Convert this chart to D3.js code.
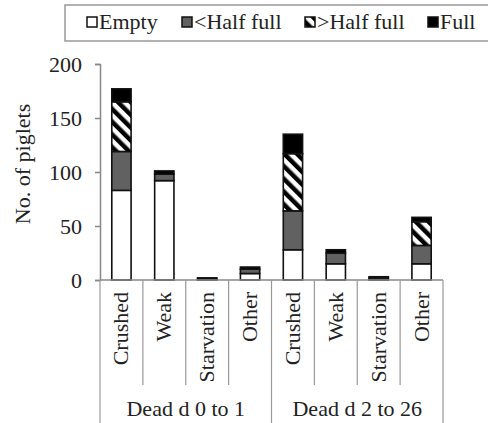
<!DOCTYPE html>
<html><head><meta charset="utf-8">
<script src="https://cdn.jsdelivr.net/npm/d3@7"></script>
</head><body style="margin:0;background:#fff">
<svg id="c" width="488" height="423" style="display:block"></svg>
<script>
const categories = ["Crushed","Weak","Starvation","Other","Crushed","Weak","Starvation","Other"];
const groups = ["Dead d 0 to 1","Dead d 2 to 26"];
const seriesNames = ["Empty","<Half full",">Half full","Full"];
const empty    = [83, 92, 0, 6, 28, 15, 0, 15];
const lessHalf = [36, 6, 1, 4, 36, 10, 2, 17];
const moreHalf = [46, 0, 0, 0, 53, 0, 0, 22];
const full     = [12, 3, 1, 2, 18, 3, 1, 4];
const yTicks = [0, 50, 100, 150, 200];

(function(){
const svg = d3.select("#c");
const mLeft = 100, mRight = 443, mTop = 64, mBottom = 280;
function sty(sel){
  return sel.attr("font-family","Liberation Serif, Times New Roman, serif")
    .style("font-family","'Liberation Serif', 'Times New Roman', serif")
    .attr("font-size",22).style("font-size","22px").attr("fill","#222");
}

const defs = svg.append("defs");
const pat = defs.append("pattern").attr("id","hatch").attr("patternUnits","userSpaceOnUse")
  .attr("width",9).attr("height",9).attr("patternTransform","rotate(-45)");
pat.append("rect").attr("width",9).attr("height",9).attr("fill","#fff");
pat.append("rect").attr("width",4.5).attr("height",9).attr("fill","#000");

const fills = ["#ffffff","#616161","url(#hatch)","#000000"];
const rows = categories.map((c,i)=>({i, "Empty":empty[i], "<Half full":lessHalf[i], ">Half full":moreHalf[i], "Full":full[i]}));
const stack = d3.stack().keys(seriesNames)(rows);

const x = d3.scaleBand().domain(d3.range(categories.length)).range([mLeft,mRight]).paddingInner(0.55).paddingOuter(0.275);
const y = d3.scaleLinear().domain([0,200]).range([mBottom,mTop]);

stack.forEach((s,k)=>{
  svg.append("g").selectAll("rect").data(s.filter(d=>d[1]-d[0]>0)).join("rect")
    .attr("x",d=>x(d.data.i)).attr("width",x.bandwidth())
    .attr("y",d=>y(d[1])).attr("height",d=>y(d[0])-y(d[1]))
    .attr("fill",fills[k]).attr("stroke","#111").attr("stroke-width",1.6);
});

const yAxis = d3.axisLeft(y).tickValues(yTicks).tickSize(5).tickPadding(13);
const ga = svg.append("g").attr("transform",`translate(${mLeft},0)`).call(yAxis);
ga.select(".domain").attr("stroke","#888").attr("stroke-width",1.5);
ga.selectAll(".tick line").attr("stroke","#888").attr("stroke-width",1.5);
sty(ga.selectAll("text"));

sty(svg.append("text").attr("transform",`translate(30,${(mTop+mBottom)/2-8}) rotate(-90)`)
  .attr("text-anchor","middle").text("No. of piglets"));

const step = x.step();
svg.append("line").attr("x1",mLeft).attr("x2",mRight).attr("y1",mBottom).attr("y2",mBottom)
  .attr("stroke","#888").attr("stroke-width",1.5);
d3.range(categories.length+1).forEach(i=>{
  const xx = mLeft + i*step;
  const long = (i % 4 === 0);
  svg.append("line").attr("x1",xx).attr("x2",xx).attr("y1",mBottom).attr("y2",long?423:385)
    .attr("stroke","#999").attr("stroke-width",1.2);
});
sty(svg.append("g").selectAll("text").data(categories).join("text")
  .attr("transform",(d,i)=>`translate(${x(i)+x.bandwidth()/2+7},${mBottom+12}) rotate(-90)`)
  .attr("text-anchor","end").text(d=>d));
sty(svg.append("g").selectAll("text").data(groups).join("text")
  .attr("x",(d,i)=>mLeft + (i*4+2)*step).attr("y",416)
  .attr("text-anchor","middle").text(d=>d));

svg.append("rect").attr("x",65).attr("y",5).attr("width",440).attr("height",36)
  .attr("fill","none").attr("stroke","#999").attr("stroke-width",1.5);
const lx = [87,182,305,428];
seriesNames.forEach((n,k)=>{
  svg.append("rect").attr("x",lx[k]).attr("y",17).attr("width",10).attr("height",10)
    .attr("fill",fills[k]).attr("stroke","#111").attr("stroke-width",1.5);
  sty(svg.append("text").attr("x",lx[k]+12).attr("y",29).text(n));
});
})();
</script>
</body></html>
